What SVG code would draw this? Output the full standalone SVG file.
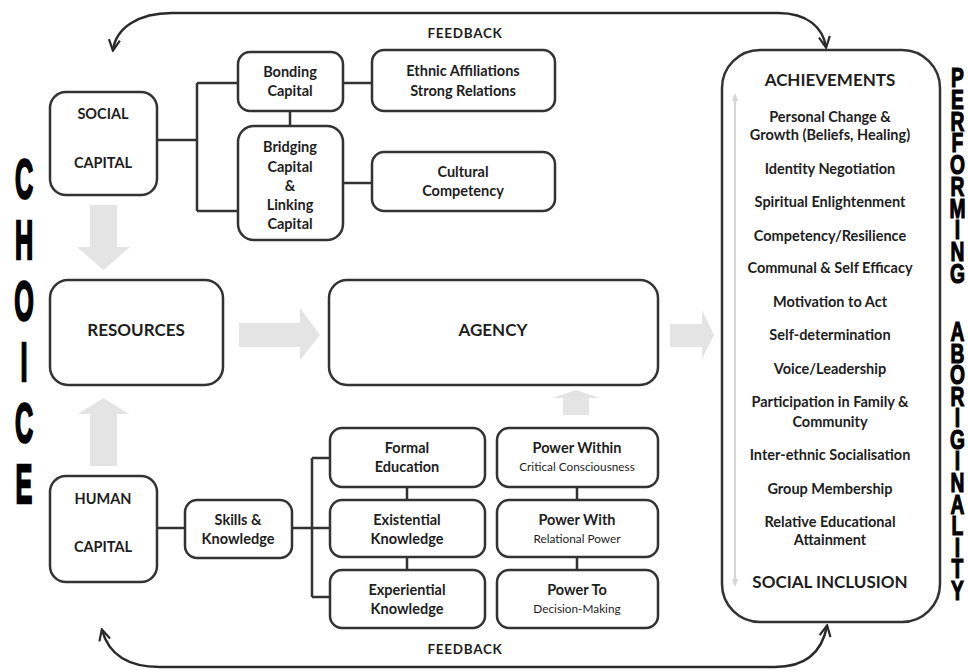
<svg xmlns="http://www.w3.org/2000/svg" width="968" height="670" viewBox="0 0 968 670">
<defs>
<style>
.box{fill:#fff;stroke:#333;stroke-width:2.5}
.t{font-family:Lato,"Open Sans","Liberation Sans",sans-serif;font-weight:bold;fill:#1e1e1e;text-anchor:middle;font-size:14.5px}
.s{font-size:11.8px;font-weight:normal}
.cap{font-size:14.5px}
.big{font-size:17px}
.it{font-size:14.5px}
.conn{fill:none;stroke:#333;stroke-width:2.5}
.fb{fill:none;stroke:#2a2a2a;stroke-width:2.5}
.ga{fill:#e4e4e4}
.side{font-family:"Liberation Sans",Arial,sans-serif;font-weight:bold;fill:#000;stroke:#000;writing-mode:vertical-rl;text-orientation:upright}
</style>
<marker id="oh" viewBox="0 0 10 10" refX="8.5" refY="5" markerWidth="5.5" markerHeight="5.5" orient="auto-start-reverse" markerUnits="strokeWidth">
<path d="M1,1 L9,5 L1,9" fill="none" stroke="#2a2a2a" stroke-width="1.6"/>
</marker>
<marker id="gh" viewBox="0 0 10 10" refX="5" refY="5" markerWidth="4" markerHeight="4" orient="auto-start-reverse" markerUnits="strokeWidth">
<path d="M0,1 L10,5 L0,9 Z" fill="#d6d6d6"/>
</marker>
</defs>
<rect width="968" height="670" fill="#fff"/>

<g id="connectors">
<path class="conn" d="M157 140 H197 M197 83 V211 M197 83 H238 M197 211 H238"/>
<path class="conn" d="M290 111 V126"/>
<path class="conn" d="M343 83 H372"/>
<path class="conn" d="M343 183 H372"/>
<path class="conn" d="M157 528 H185"/>
<path class="conn" d="M292 528 H330 M312 458 V597 M312 458 H330 M312 597 H330"/>
<path class="conn" d="M407 487 V500 M407 557 V570"/>
<path class="conn" d="M577 487 V500 M577 557 V570"/>
<polygon class="ga" points="90,205 117,205 117,247 130,247 103.5,270 77,247 90,247"/>
<polygon class="ga" points="90,466 117,466 117,414 129,414 103.5,398 78,414 90,414"/>
<polygon class="ga" points="239,323 300,323 300,308 320,335 300,360 300,347 239,347"/>
<polygon class="ga" points="670,324 702,324 702,310 714,335 702,359 702,347 670,347"/>
<polygon class="ga" points="563,415 589,415 589,398 600,398 576,390 552,398 563,398"/>
<path class="fb" d="M113 50 C116 28 138 13 172 13 L778 13 C808 13 823 28 826 47" marker-start="url(#oh)" marker-end="url(#oh)"/>
<path class="fb" d="M102 630 C108 652 125 667 160 667 L775 667 C805 667 822 652 827 626" marker-start="url(#oh)" marker-end="url(#oh)"/>
<text class="t" x="465" y="38" style="font-size:13.5px;letter-spacing:0.7px">FEEDBACK</text>
<text class="t" x="465" y="654" style="font-size:13.5px;letter-spacing:0.7px">FEEDBACK</text>
</g>

<g id="social-capital">
<rect class="box" x="50" y="92" width="107" height="103" rx="16"/>
<text class="t cap" x="103" y="119">SOCIAL</text>
<text class="t cap" x="103" y="168">CAPITAL</text>
</g>
<g id="bonding-capital">
<rect class="box" x="238" y="52" width="105" height="59" rx="12"/>
<text class="t" x="290" y="77">Bonding</text>
<text class="t" x="290" y="96">Capital</text>
</g>
<g id="bridging-capital">
<rect class="box" x="238" y="126" width="105" height="114" rx="16"/>
<text class="t" x="290" y="152">Bridging</text>
<text class="t" x="290" y="172">Capital</text>
<text class="t" x="290" y="191">&amp;</text>
<text class="t" x="290" y="210">Linking</text>
<text class="t" x="290" y="229">Capital</text>
</g>
<g id="ethnic-affiliations">
<rect class="box" x="372" y="50" width="183" height="61" rx="12"/>
<text class="t" x="463" y="76">Ethnic Affiliations</text>
<text class="t" x="463" y="96">Strong Relations</text>
</g>
<g id="cultural-competency">
<rect class="box" x="372" y="152" width="183" height="59" rx="12"/>
<text class="t" x="463" y="177">Cultural</text>
<text class="t" x="463" y="196">Competency</text>
</g>
<g id="resources">
<rect class="box" x="50" y="280" width="173" height="105" rx="18"/>
<text class="t big" x="136" y="336">RESOURCES</text>
</g>
<g id="agency">
<rect class="box" x="329" y="280" width="329" height="105" rx="18"/>
<text class="t big" x="493" y="336">AGENCY</text>
</g>
<g id="human-capital">
<rect class="box" x="50" y="476" width="107" height="106" rx="16"/>
<text class="t cap" x="103" y="504">HUMAN</text>
<text class="t cap" x="103" y="552">CAPITAL</text>
</g>
<g id="skills-knowledge">
<rect class="box" x="185" y="500" width="107" height="58" rx="12"/>
<text class="t" x="238" y="525">Skills &amp;</text>
<text class="t" x="238" y="544">Knowledge</text>
</g>
<g id="formal-education">
<rect class="box" x="330" y="428" width="155" height="59" rx="12"/>
<text class="t" x="407" y="453">Formal</text>
<text class="t" x="407" y="472">Education</text>
</g>
<g id="existential-knowledge">
<rect class="box" x="330" y="500" width="155" height="57" rx="12"/>
<text class="t" x="407" y="525">Existential</text>
<text class="t" x="407" y="544">Knowledge</text>
</g>
<g id="experiential-knowledge">
<rect class="box" x="330" y="570" width="155" height="58" rx="12"/>
<text class="t" x="407" y="595">Experiential</text>
<text class="t" x="407" y="614">Knowledge</text>
</g>
<g id="power-within">
<rect class="box" x="497" y="428" width="161" height="59" rx="12"/>
<text class="t" x="577" y="453">Power Within</text>
<text class="t s" x="577" y="471">Critical Consciousness</text>
</g>
<g id="power-with">
<rect class="box" x="497" y="500" width="161" height="57" rx="12"/>
<text class="t" x="577" y="525">Power With</text>
<text class="t s" x="577" y="543">Relational Power</text>
</g>
<g id="power-to">
<rect class="box" x="497" y="570" width="161" height="58" rx="12"/>
<text class="t" x="577" y="595">Power To</text>
<text class="t s" x="577" y="613">Decision-Making</text>
</g>
<g id="achievements">
<rect class="box" x="722" y="50" width="218" height="572" rx="38"/>
<line x1="735" y1="97" x2="735" y2="583" stroke="#d6d6d6" stroke-width="2" marker-start="url(#gh)" marker-end="url(#gh)"/>
<text class="t big" x="830" y="86">ACHIEVEMENTS</text>
<text class="t it" x="830" y="122">Personal Change &amp;</text>
<text class="t it" x="830" y="140">Growth (Beliefs, Healing)</text>
<text class="t it" x="830" y="174">Identity Negotiation</text>
<text class="t it" x="830" y="207">Spiritual Enlightenment</text>
<text class="t it" x="830" y="241">Competency/Resilience</text>
<text class="t it" x="830" y="273">Communal &amp; Self Efficacy</text>
<text class="t it" x="830" y="307">Motivation to Act</text>
<text class="t it" x="830" y="340">Self-determination</text>
<text class="t it" x="830" y="374">Voice/Leadership</text>
<text class="t it" x="830" y="407">Participation in Family &amp;</text>
<text class="t it" x="830" y="427">Community</text>
<text class="t it" x="830" y="460">Inter-ethnic Socialisation</text>
<text class="t it" x="830" y="494">Group Membership</text>
<text class="t it" x="830" y="527">Relative Educational</text>
<text class="t it" x="830" y="545">Attainment</text>
<text class="t big" x="830" y="588">SOCIAL INCLUSION</text>
</g>

<g id="choice" transform="translate(24 0) scale(0.45 1)">
<text class="side" x="0" y="148" style="font-size:56px;letter-spacing:-1px;stroke-width:2.5">CHOICE</text>
</g>
<g id="performing-aboriginality" transform="translate(957.5 0) scale(0.7 1)">
<text class="side" x="0" y="63" style="font-size:27.5px;letter-spacing:-8.4px;stroke-width:1.2">PERFORMING</text>
<text class="side" x="0" y="317" style="font-size:27.5px;letter-spacing:-8.6px;stroke-width:1.2">ABORIGINALITY</text>
</g>
</svg>
